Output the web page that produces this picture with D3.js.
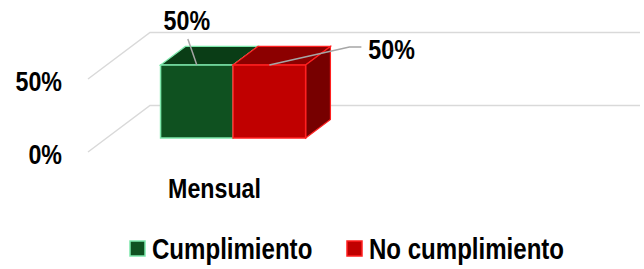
<!DOCTYPE html>
<html>
<head>
<meta charset="utf-8">
<script src="https://cdn.jsdelivr.net/npm/d3@7"></script>
<style>
body { margin: 0; background: #fff; }
text { font-family: "Liberation Sans", Arial, sans-serif; font-weight: bold; fill: #000; }
</style>
</head>
<body>
<div id="chart"></div>
<script>
var categories = ["Mensual"];
var series = ["Cumplimiento", "No cumplimiento"];
var values = [[0.5, 0.5]];
var ticks = [0, 0.5];

var w = 644;
var h = 269;
var narrow = 0.83; // reference uses a condensed bold face

var colors = {
    "Cumplimiento": { front: "#0f5120", top: "#0a3d16", side: "#083010", stroke: "#7ee8ac" },
    "No cumplimiento": { front: "#c00000", top: "#8c0000", side: "#770000", stroke: "#ff2020" }
};

// depth vector of the floor (front to back wall)
var dX = 62, dY = -46.5;
var z0 = 0.3, z1 = 0.7;

var x = d3.scaleBand()
    .domain(categories)
    .range([88, 341])
    .paddingInner(0)
    .paddingOuter(0.372);

var xs = d3.scaleBand()
    .domain(series)
    .range([0, x.bandwidth()]);

var y = d3.scaleLinear()
    .domain([0, 0.5])
    .range([152, 79]);

var fmt = d3.format(".0%");

var svg = d3.select("#chart")
    .append("svg")
    .attr("width", w)
    .attr("height", h);

function place(px, py) {
    return "translate(" + px + "," + py + ") scale(" + narrow + ",1)";
}

// walls / gridlines
var grid = svg.append("g");
ticks.forEach(function(t) {
    grid.append("polyline")
        .attr("points", [[88, y(t)], [88 + dX, y(t) + dY], [640, y(t) + dY]].join(" "))
        .attr("fill", "none")
        .attr("stroke", "#d9d9d9")
        .attr("stroke-width", 1.5);
});

svg.append("g").selectAll("text")
    .data(ticks)
    .enter()
    .append("text")
    .attr("transform", function(d) { return place(62, y(d) + 12); })
    .attr("text-anchor", "end")
    .attr("font-size", 28)
    .text(function(d) { return fmt(d); });

function pt(px, py, z) {
    return [px + dX * z, py + dY * z];
}

var bars = svg.append("g");
var anchors = [];
categories.forEach(function(c, ci) {
    series.forEach(function(s, si) {
        var v = values[ci][si];
        var col = colors[s];
        var xl = x(c) + xs(s), xr = xl + xs.bandwidth();
        var yb = y(0), yt = y(v);
        var a = pt(xl, yt, z0), b = pt(xr, yt, z0), cc = pt(xr, yb, z0), d = pt(xl, yb, z0);
        var a2 = pt(xl, yt, z1), b2 = pt(xr, yt, z1), c2 = pt(xr, yb, z1);
        bars.append("polygon")
            .attr("points", [a, a2, b2, b].join(" "))
            .attr("fill", col.top)
            .attr("stroke", col.stroke)
            .attr("stroke-width", 1.2);
        bars.append("polygon")
            .attr("points", [b, b2, c2, cc].join(" "))
            .attr("fill", col.side)
            .attr("stroke", col.stroke)
            .attr("stroke-width", 1.2);
        bars.append("polygon")
            .attr("points", [a, b, cc, d].join(" "))
            .attr("fill", col.front)
            .attr("stroke", col.stroke)
            .attr("stroke-width", 1.5);
        anchors.push({ x: (a[0] + b[0]) / 2, y: a[1], v: v });
    });
});

// data labels with leader lines
var lab = svg.append("g");
var g0 = anchors[0];
lab.append("line")
    .attr("x1", g0.x).attr("y1", g0.y)
    .attr("x2", g0.x - 9).attr("y2", g0.y - 26)
    .attr("stroke", "#a6a6a6").attr("stroke-width", 1.5);
lab.append("text")
    .attr("transform", place(g0.x - 10, g0.y - 35))
    .attr("text-anchor", "middle")
    .attr("font-size", 28)
    .text(fmt(g0.v));

var r0 = anchors[1];
lab.append("polyline")
    .attr("points", [[r0.x, r0.y], [r0.x + 80, r0.y - 18], [r0.x + 92, r0.y - 18]].join(" "))
    .attr("fill", "none")
    .attr("stroke", "#a6a6a6").attr("stroke-width", 1.5);
lab.append("text")
    .attr("transform", place(r0.x + 99, r0.y - 6))
    .attr("font-size", 28)
    .text(fmt(r0.v));

// category label
svg.append("g").selectAll("text")
    .data(categories)
    .enter()
    .append("text")
    .attr("transform", function(d) { return place(x(d) + x.bandwidth() / 2, 198); })
    .attr("text-anchor", "middle")
    .attr("font-size", 28)
    .text(function(d) { return d; });

// legend
var legX = [130, 347];
var leg = svg.append("g").selectAll("g")
    .data(series)
    .enter()
    .append("g")
    .attr("transform", function(d, i) { return "translate(" + legX[i] + ",241)"; });
leg.append("rect")
    .attr("width", 15).attr("height", 15)
    .attr("fill", function(d) { return colors[d].front; })
    .attr("stroke", function(d) { return colors[d].stroke; })
    .attr("stroke-width", 1.5);
leg.append("text")
    .attr("transform", place(22, 18))
    .attr("font-size", 29)
    .text(function(d) { return d; });
</script>
</body>
</html>
